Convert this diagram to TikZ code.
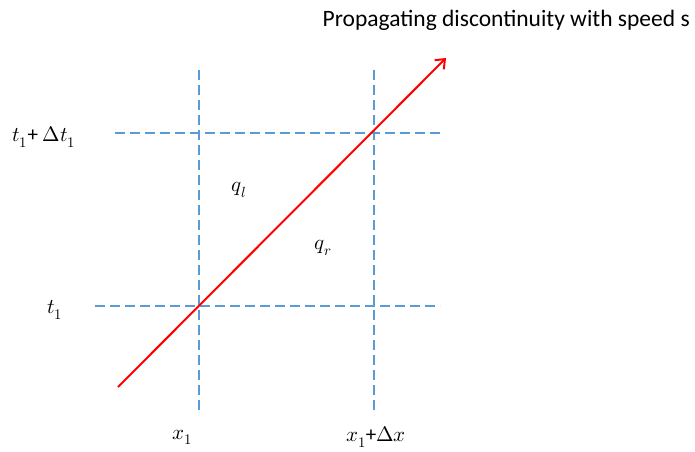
\documentclass[tikz,border=0pt]{standalone}
\usepackage{fontspec}
\setmainfont{Carlito}
\usepackage{unicode-math}
\setmathfont{Latin Modern Math}
\usetikzlibrary{arrows.meta}
\definecolor{gridblue}{RGB}{91,155,213}
\begin{document}
\begin{tikzpicture}[x=1pt,y=-1pt,
  gridline/.style={draw=gridblue,line width=2pt,dash pattern=on 10pt off 5pt},
  shock/.style={draw=red,line width=2pt,-{Straight Barb[length=8pt,width=13pt]}},
  lbl/.style={inner sep=0pt,font=\fontsize{21}{24}\selectfont}]
\useasboundingbox (0,0) rectangle (695,451);
\coordinate (v1t) at (199,70); \coordinate (v1b) at (199,415);
\coordinate (v2t) at (374,70); \coordinate (v2b) at (374,415);
\coordinate (h1l) at (115,133); \coordinate (h1r) at (440,133);
\coordinate (h2l) at (95,306); \coordinate (h2r) at (440,306);
\coordinate (ss) at (118,387); \coordinate (se) at (446,58);
\draw[gridline] (v1t) -- (v1b);
\draw[gridline] (v2t) -- (v2b);
\draw[gridline] (h1l) -- (h1r);
\draw[gridline] (h2l) -- (h2r);
\draw[shock] (ss) -- (se);
\node[lbl] (tdt) at (44,137) {$t_1$+ $\Delta t_1$};
\node[lbl] (t1) at (55,310) {$t_1$};
\node[lbl] (ql) at (239,190) {$q_l$};
\node[lbl] (qr) at (323,248) {$q_r$};
\node[lbl] (x1) at (182,437) {$x_1$};
\node[lbl] (xdx) at (376,437) {$x_1$+$\Delta x$};
\node[inner sep=0pt,anchor=east,font=\fontsize{23.5}{26}\selectfont] (title) at (690,20) {Propagating discontinuity with speed s};
\end{tikzpicture}
\end{document}
